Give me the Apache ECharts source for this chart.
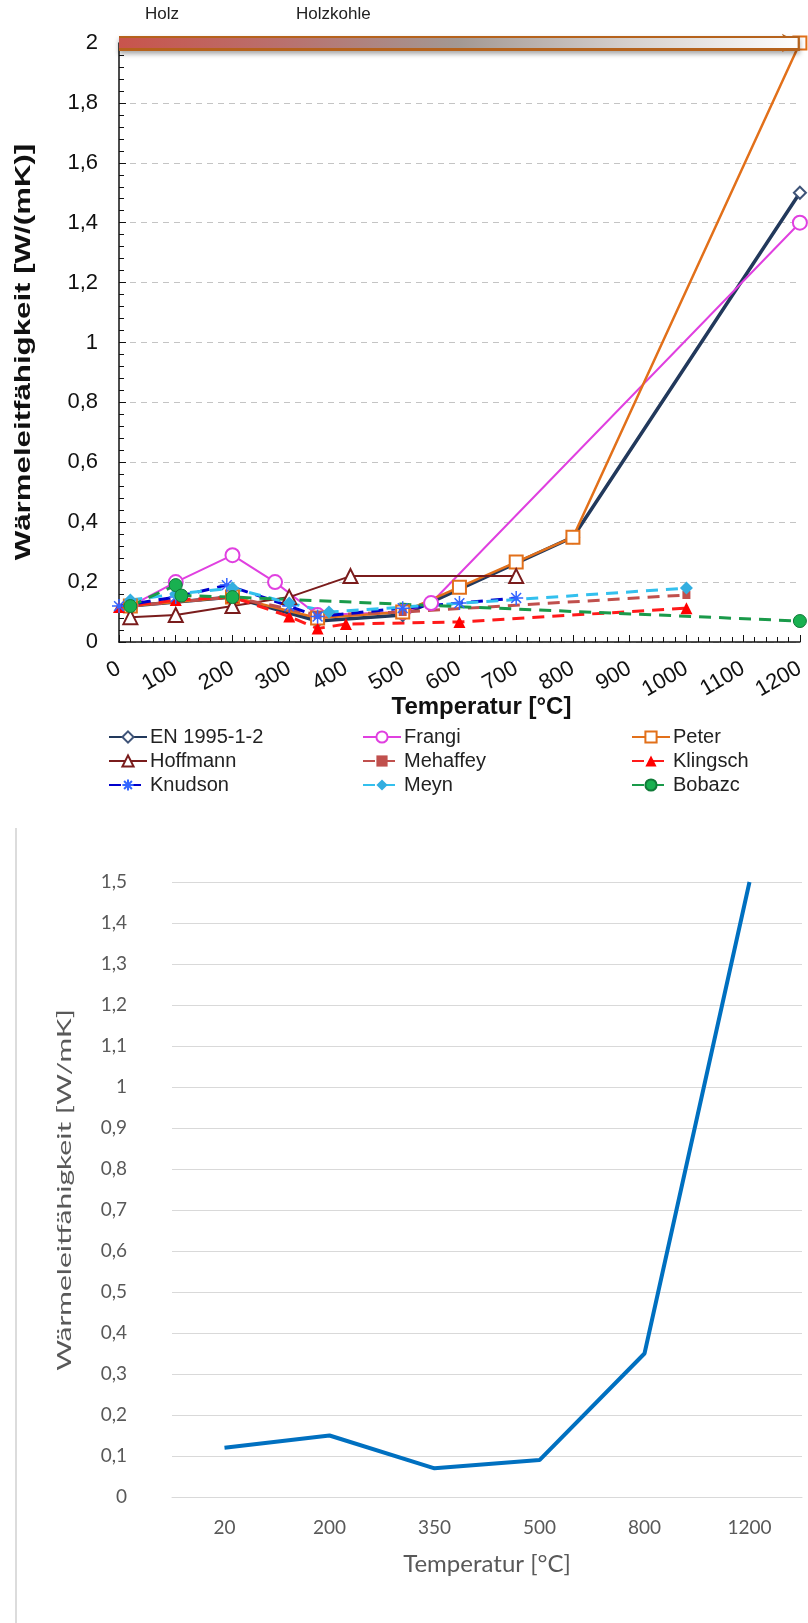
<!DOCTYPE html>
<html><head><meta charset="utf-8">
<script src="https://cdn.jsdelivr.net/npm/echarts@6/dist/echarts.min.js"></script>
<style>html,body{margin:0;padding:0;background:#fff}#c{width:808px;height:1623px}</style>
</head><body><div id="c"></div>
<script>
// ---------- top chart data: [temperature °C, conductivity W/(mK)] ----------
const enData       = [[20,0.12],[200,0.15],[350,0.07],[500,0.09],[800,0.35],[1200,1.5]];
const frangiData   = [[20,0.12],[100,0.2],[200,0.29],[275,0.2],[350,0.09],[500,0.1],[550,0.13],[1200,1.4]];
const peterData    = [[20,0.12],[200,0.15],[350,0.08],[500,0.1],[600,0.183],[700,0.267],[800,0.35],[1200,2.0]];
const hoffmannData = [[20,0.083],[100,0.09],[200,0.12],[300,0.15],[408,0.22],[700,0.22]];
const mehaffeyData = [[20,0.12],[200,0.15],[350,0.09],[500,0.1],[1000,0.157]];
const klingschData = [[0,0.117],[100,0.14],[200,0.15],[300,0.085],[350,0.045],[400,0.06],[600,0.067],[1000,0.113]];
const knudsonData  = [[0,0.12],[100,0.15],[190,0.19],[300,0.12],[350,0.085],[500,0.113],[600,0.13],[700,0.147]];
const meynData     = [[20,0.14],[100,0.16],[200,0.18],[300,0.13],[370,0.1],[1000,0.18]];
const bobazcData   = [[20,0.12],[100,0.19],[110,0.155],[200,0.15],[1200,0.07]];
const arrowLevel   = 2;
const phaseLabels  = ['Holz','Holzkohle'];
const topYTitle    = 'Wärmeleitfähigkeit [W/(mK)]';

// ---------- bottom chart data ----------
const tempCats  = ['20','200','350','500','800','1200'];
const enValues  = [0.12,0.15,0.07,0.09,0.35,1.5];
const botYTitle = 'Wärmeleitfähigkeit [W/mK]';

const fmt = v => String(Math.round(v*10)/10).replace('.', ',');
const AR = 'Liberation Sans, Arial, sans-serif';
const CAL = 'Lato, Open Sans, sans-serif';
const asterisk = 'path://M5,0L5,10M0,5L10,5M1.5,1.5L8.5,8.5M8.5,1.5L1.5,8.5';

function lineSeries(name, data, color, symbol, opts){
  return Object.assign({
    name, type:'line', data, xAxisIndex:0, yAxisIndex:0,
    symbol, symbolSize:12, showAllSymbol:true,
    lineStyle:{color, width:2},
    itemStyle:{color},
    animation:false, z:3
  }, opts||{});
}
const dash = [12,8];

const series = [
  lineSeries('EN 1995-1-2', enData, '#22395c', 'emptyDiamond', {lineStyle:{color:'#22395c', width:3.5}, itemStyle:{color:'#3f5478', borderWidth:1.5}}),
  lineSeries('Frangi', frangiData, '#e040e0', 'emptyCircle', {symbolSize:14, itemStyle:{color:'#e040e0', borderWidth:1.5}}),
  lineSeries('Peter', peterData, '#e2701a', 'emptyRect', {symbolSize:13, lineStyle:{color:'#e2701a', width:2.5}, itemStyle:{color:'#e2701a', borderWidth:2}}),
  lineSeries('Hoffmann', hoffmannData, '#7a1c1c', 'emptyTriangle', {symbolSize:14, itemStyle:{color:'#7a1c1c', borderWidth:2}}),
  lineSeries('Mehaffey', mehaffeyData, '#c0504d', 'rect', {symbolSize:8, lineStyle:{color:'#c0504d', width:3, type:dash}}),
  lineSeries('Klingsch', klingschData, '#ff0000', 'triangle', {symbolSize:12, lineStyle:{color:'#ff1a1a', width:3, type:dash}}),
  lineSeries('Knudson', knudsonData, '#0000cc', asterisk, {symbolSize:14, lineStyle:{color:'#0000cc', width:3, type:dash}, itemStyle:{color:'rgba(0,0,0,0)', borderColor:'#3366ff', borderWidth:1.5}}),
  lineSeries('Meyn', meynData, '#33b5e5', 'diamond', {symbolSize:13, lineStyle:{color:'#33c0ee', width:3, type:dash}, itemStyle:{color:'#33aee0'}}),
  lineSeries('Bobazc', bobazcData, '#00a050', 'circle', {symbolSize:13, lineStyle:{color:'#1a9a4a', width:3, type:dash}, itemStyle:{color:'#19b050', borderColor:'#107a38', borderWidth:1}}),
  // arrow band (Holz -> Holzkohle), outline then gradient core
  {type:'line', data:[], xAxisIndex:0, yAxisIndex:0, animation:false, z:5,
   markLine:{silent:true, symbol:['none','arrow'], symbolSize:[14,18], label:{show:false}, animation:false,
     lineStyle:{color:'#b5621c', width:15, type:'solid', shadowBlur:5, shadowColor:'rgba(0,0,0,0.35)', shadowOffsetY:3},
     itemStyle:{color:'#b5621c'},
     data:[[{coord:[0,arrowLevel]},{coord:[1200,arrowLevel]}]]}},
  {type:'line', data:[], xAxisIndex:0, yAxisIndex:0, animation:false, z:6,
   markLine:{silent:true, symbol:['none','none'], label:{show:false}, animation:false,
     lineStyle:{width:10, type:'solid', color:new echarts.graphic.LinearGradient(0,0,1,0,[
       {offset:0,color:'#c9534b'},{offset:0.25,color:'#b9716e'},{offset:0.5,color:'#a39893'},
       {offset:0.75,color:'#d6d0cd'},{offset:1,color:'#ffffff'}])},
     data:[[{coord:[0,arrowLevel]},{coord:[1196,arrowLevel]}]]}},
  // bottom chart
  {name:'EN (unten)', type:'line', data:enValues, xAxisIndex:1, yAxisIndex:1, symbol:'none',
   lineStyle:{color:'#0070c0', width:4}, itemStyle:{color:'#0070c0'}, animation:false}
];

const legendBase = {orient:'vertical', itemGap:4, itemWidth:38, itemHeight:14, selectedMode:false,
  textStyle:{fontFamily:AR, fontSize:20, color:'#222', padding:[0,0,0,-2]}};

const option = {
  backgroundColor:'#fff',
  animation:false,
  grid:[
    {left:119, top:43, width:684, height:599, containLabel:false},
    {left:172, top:882, width:630, height:615, containLabel:false}
  ],
  xAxis:[
    {type:'value', gridIndex:0, min:0, max:1200, interval:100,
     name:'Temperatur [°C]', nameLocation:'middle', nameGap:53, nameMoveOverlap:false,
     nameTextStyle:{fontFamily:AR, fontSize:24, fontWeight:'bold', color:'#111', padding:[0,0,0,44]},
     axisLine:{lineStyle:{color:'#111', width:1.5}},
     axisTick:{show:true, inside:true, length:7, lineStyle:{color:'#111'}},
     minorTick:{show:true, splitNumber:5, length:5, lineStyle:{color:'#111'}},
     axisLabel:{rotate:30, margin:25, fontFamily:AR, fontSize:22, color:'#111', formatter:v=>String(v)},
     splitLine:{show:false}},
    {type:'category', gridIndex:1, data:tempCats, boundaryGap:true,
     name:'Temperatur [°C]', nameLocation:'middle', nameGap:55, nameMoveOverlap:false,
     nameTextStyle:{fontFamily:CAL, fontSize:24, color:'#595959'},
     axisLine:{show:true, lineStyle:{color:'#d9d9d9', width:1}},
     axisTick:{show:false},
     axisLabel:{margin:21, fontFamily:CAL, fontSize:19, color:'#595959'}}
  ],
  yAxis:[
    {type:'value', gridIndex:0, min:0, max:2, interval:0.2,
     axisLine:{show:true, lineStyle:{color:'#111', width:1.5}},
     axisTick:{show:true, inside:true, length:7, lineStyle:{color:'#111'}},
     minorTick:{show:true, splitNumber:5, length:5, lineStyle:{color:'#111'}},
     axisLabel:{formatter:fmt, margin:21, fontFamily:AR, fontSize:22, color:'#111'},
     splitLine:{show:true, lineStyle:{color:'#c4c4c4', type:[6,5], width:1}}},
    {type:'value', gridIndex:1, min:0, max:1.5, interval:0.1,
     axisLine:{show:false}, axisTick:{show:false},
     axisLabel:{formatter:fmt, margin:45, fontFamily:CAL, fontSize:19, color:'#595959'},
     splitLine:{show:true, lineStyle:{color:'#d9d9d9', width:1}}}
  ],
  legend:[
    Object.assign({left:103, top:722, data:['EN 1995-1-2','Hoffmann','Knudson']}, legendBase),
    Object.assign({left:357, top:722, data:['Frangi','Mehaffey','Meyn']}, legendBase),
    Object.assign({left:626, top:722, data:['Peter','Klingsch','Bobazc']}, legendBase)
  ],
  graphic:[
    {type:'text', left:145, top:6, style:{text:phaseLabels[0], fontFamily:AR, fontSize:17, fill:'#222'}},
    {type:'text', left:296, top:6, style:{text:phaseLabels[1], fontFamily:AR, fontSize:17, fill:'#222'}},
    {type:'text', x:24, y:352, rotation:Math.PI/2, scaleX:1.42, scaleY:1,
     style:{text:topYTitle, fontFamily:AR, fontSize:22, fontWeight:'bold', fill:'#111', align:'center', verticalAlign:'middle'}},
    {type:'text', x:65, y:1190, rotation:Math.PI/2, scaleX:1.5, scaleY:1,
     style:{text:botYTitle, fontFamily:CAL, fontSize:20, fill:'#595959', align:'center', verticalAlign:'middle'}},
    {type:'line', shape:{x1:16, y1:828, x2:16, y2:1623}, style:{stroke:'#d0d0d0', lineWidth:1.5}}
  ],
  series
};
echarts.init(document.getElementById('c'), null, {renderer:'canvas'}).setOption(option);
</script></body></html>
